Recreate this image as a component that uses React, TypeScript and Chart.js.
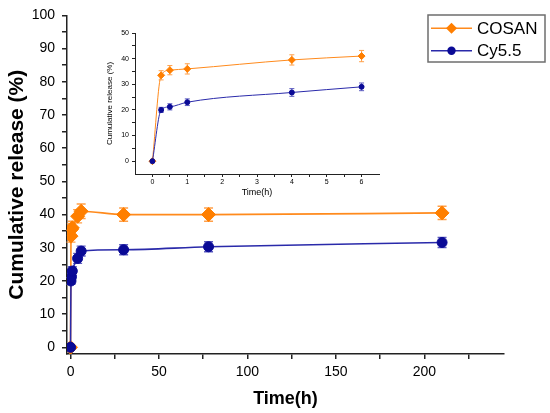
import React, { useEffect, useRef } from "react";
import { Chart, registerables } from "chart.js";

Chart.register(...registerables);

// ---- data ----
const times = [0, 0.25, 0.5, 1, 4, 6, 30, 78, 210];
const cosanValues = [0, 33.5, 35.5, 36, 39.5, 41, 40, 40, 40.5];
const cosanErrors = [0, 1.8, 1.8, 2, 2, 2.2, 2, 2, 2];
const cy55Values = [0, 20, 21.2, 23, 26.8, 29, 29.4, 30.3, 31.6];
const cy55Errors = [0, 1, 1.2, 1.3, 1.5, 1.5, 1.5, 1.5, 1.5];
const insetPointCount = 6; // the inset shows the first 6 h

const seriesNames = ["COSAN", "Cy5.5"];

const mainXTicks = [0, 25, 50, 75, 100, 125, 150, 175, 200, 225];
const mainXLabels = [0, 50, 100, 150, 200];
const mainYTicks = [0, 5, 10, 15, 20, 25, 30, 35, 40, 45, 50, 55, 60, 65, 70, 75, 80, 85, 90, 95, 100];
const mainYLabels = [0, 10, 20, 30, 40, 50, 60, 70, 80, 90, 100];

const insetXTicks = [0, 0.5, 1, 1.5, 2, 2.5, 3, 3.5, 4, 4.5, 5, 5.5, 6];
const insetXLabels = [0, 1, 2, 3, 4, 5, 6];
const insetYTicks = [0, 5, 10, 15, 20, 25, 30, 35, 40, 45, 50];
const insetYLabels = [0, 10, 20, 30, 40, 50];

const FONT = "'Liberation Sans', Arial, sans-serif";

const ORANGE_LINE = "#ff8a1c";
const ORANGE_MARK = "#ff7f00";
const ORANGE_ERR = "#ffa04a";
const BLUE_LINE = "#2a2aaa";
const BLUE_MARK = "#0a0a96";
const BLUE_ERR = "#5a5abf";

const errorBarPlugin = {
  id: "errorBars",
  beforeDatasetsDraw(chart: any, _args: any, opts: any) {
    const ctx = chart.ctx;
    const xs = chart.scales.x;
    const ys = chart.scales.y;
    chart.data.datasets.forEach((ds: any) => {
      const errs = ds.errors;
      if (!errs) return;
      ctx.save();
      ctx.strokeStyle = ds.errorColor || ds.borderColor;
      ctx.lineWidth = opts.lineWidth || 1;
      const cap = opts.cap || 3;
      ds.data.forEach((pt: any, j: number) => {
        const e = errs[j];
        if (!e) return;
        const x = xs.getPixelForValue(pt.x);
        const y1 = ys.getPixelForValue(pt.y - e);
        const y2 = ys.getPixelForValue(pt.y + e);
        ctx.beginPath();
        ctx.moveTo(x, y1);
        ctx.lineTo(x, y2);
        ctx.moveTo(x - cap, y1);
        ctx.lineTo(x + cap, y1);
        ctx.moveTo(x - cap, y2);
        ctx.lineTo(x + cap, y2);
        ctx.stroke();
      });
      ctx.restore();
    });
  },
};

const boxLegendPlugin = {
  id: "boxLegend",
  afterDraw(chart: any, _args: any, opts: any) {
    if (!opts || !opts.display) return;
    const ctx = chart.ctx;
    const { left, top, width, height, firstRow, rowHeight, lineLen, textGap, fontSize } = opts;
    ctx.save();
    ctx.strokeStyle = "#6e6e6e";
    ctx.lineWidth = 1.5;
    ctx.strokeRect(left, top, width, height);
    chart.data.datasets.forEach((ds: any, i: number) => {
      const y = top + firstRow + i * rowHeight;
      const x0 = left + 3;
      const x1 = x0 + lineLen;
      const cx = (x0 + x1) / 2;
      ctx.strokeStyle = ds.borderColor;
      ctx.lineWidth = 1.5;
      ctx.beginPath();
      ctx.moveTo(x0, y);
      ctx.lineTo(x1, y);
      ctx.stroke();
      ctx.fillStyle = ds.pointBackgroundColor;
      ctx.beginPath();
      if (ds.pointStyle === "rectRot") {
        const r = 5.5;
        ctx.moveTo(cx - r, y);
        ctx.lineTo(cx, y - r);
        ctx.lineTo(cx + r, y);
        ctx.lineTo(cx, y + r);
        ctx.closePath();
      } else {
        ctx.arc(cx, y, 4.2, 0, Math.PI * 2);
      }
      ctx.fill();
      ctx.fillStyle = "#000";
      ctx.font = `${fontSize}px ${FONT}`;
      ctx.textBaseline = "middle";
      ctx.textAlign = "left";
      ctx.fillText(ds.label, x1 + textGap, y + 1);
    });
    ctx.restore();
  },
};

function buildPoints(values: number[], count: number) {
  return times.slice(0, count).map((t, i) => ({ x: t, y: values[i] }));
}

function makeDatasets(count: number, big: boolean) {
  return [
    {
      label: seriesNames[0],
      data: buildPoints(cosanValues, count),
      errors: cosanErrors.slice(0, count),
      errorColor: ORANGE_ERR,
      borderColor: ORANGE_LINE,
      backgroundColor: ORANGE_MARK,
      pointBackgroundColor: ORANGE_MARK,
      pointBorderColor: ORANGE_MARK,
      pointStyle: "rectRot",
      pointRadius: big ? 7 : 3.5,
      pointBorderWidth: 1,
      borderWidth: big ? 1.6 : 1,
      cubicInterpolationMode: "monotone",
      fill: false,
      order: 2,
    },
    {
      label: seriesNames[1],
      data: buildPoints(cy55Values, count),
      errors: cy55Errors.slice(0, count),
      errorColor: BLUE_ERR,
      borderColor: BLUE_LINE,
      backgroundColor: BLUE_MARK,
      pointBackgroundColor: BLUE_MARK,
      pointBorderColor: BLUE_MARK,
      pointStyle: "circle",
      pointRadius: big ? 5 : 2.5,
      pointBorderWidth: 1,
      borderWidth: big ? 1.6 : 1,
      cubicInterpolationMode: "monotone",
      fill: false,
      order: 1,
    },
  ];
}

function axis(opts: any) {
  const { min, max, tickValues, labelValues, fontSize, tickLength, padding, borderWidth, title, size, isX } = opts;
  return {
    type: "linear",
    min,
    max,
    afterFit(scale: any) {
      if (isX) scale.height = size;
      else scale.width = size;
    },
    afterBuildTicks(scale: any) {
      scale.ticks = tickValues.map((v: number) => ({ value: v }));
    },
    ticks: {
      autoSkip: false,
      maxRotation: 0,
      minRotation: 0,
      color: "#000",
      padding,
      font: { family: FONT, size: fontSize },
      callback: (v: number) => (labelValues.includes(v) ? String(v) : ""),
    },
    grid: {
      display: true,
      drawOnChartArea: false,
      drawTicks: true,
      tickLength,
      color: "#222",
      lineWidth: borderWidth,
    },
    border: { display: true, color: "#222", width: borderWidth },
    title,
  };
}

export default function App() {
  const mainRef = useRef<HTMLCanvasElement | null>(null);
  const insetRef = useRef<HTMLCanvasElement | null>(null);

  useEffect(() => {
    document.body.style.margin = "0";
    const mainChart = new Chart(mainRef.current as HTMLCanvasElement, {
      type: "line",
      data: { datasets: makeDatasets(times.length, true) as any },
      plugins: [errorBarPlugin, boxLegendPlugin],
      options: {
        animation: false,
        responsive: false,
        devicePixelRatio: 1,
        layout: { padding: { top: 13, right: 46, left: 0, bottom: 0 } },
        plugins: {
          legend: { display: false },
          tooltip: { enabled: false },
          errorBars: { lineWidth: 1.4, cap: 4.5 },
          boxLegend: {
            display: true,
            left: 428,
            top: 15,
            width: 117,
            height: 47,
            firstRow: 13.3,
            rowHeight: 22.4,
            lineLen: 41,
            textGap: 5,
            fontSize: 17,
          },
        } as any,
        scales: {
          x: axis({
            isX: true,
            size: 59,
            min: -2,
            max: 245,
            tickValues: mainXTicks,
            labelValues: mainXLabels,
            fontSize: 14,
            tickLength: 5,
            padding: 5,
            borderWidth: 1.5,
            title: {
              display: true,
              text: "Time(h)",
              color: "#000",
              font: { family: FONT, size: 18, weight: "bold" },
              padding: { top: 0, bottom: 3 },
            },
          }),
          y: axis({
            isX: false,
            size: 67,
            min: -2,
            max: 100,
            tickValues: mainYTicks,
            labelValues: mainYLabels,
            fontSize: 14,
            tickLength: 5,
            padding: 7,
            borderWidth: 1.5,
            title: {
              display: true,
              text: "Cumulative release (%)",
              color: "#000",
              font: { family: FONT, size: 21, weight: "bold" },
              padding: { top: 5, bottom: 0 },
            },
          }),
        } as any,
      },
    });

    const insetChart = new Chart(insetRef.current as HTMLCanvasElement, {
      type: "line",
      data: { datasets: makeDatasets(insetPointCount, false) as any },
      plugins: [errorBarPlugin],
      options: {
        animation: false,
        responsive: false,
        devicePixelRatio: 1,
        layout: { padding: { top: 13, right: 11, left: 0, bottom: 0 } },
        plugins: {
          legend: { display: false },
          tooltip: { enabled: false },
          errorBars: { lineWidth: 1, cap: 2.5 },
        } as any,
        scales: {
          x: axis({
            isX: true,
            size: 31,
            min: -0.5,
            max: 6.5,
            tickValues: insetXTicks,
            labelValues: insetXLabels,
            fontSize: 7,
            tickLength: 3,
            padding: 1,
            borderWidth: 1,
            title: {
              display: true,
              text: "Time(h)",
              color: "#000",
              font: { family: FONT, size: 9 },
              padding: { top: 0, bottom: 7 },
            },
          }),
          y: axis({
            isX: false,
            size: 35,
            min: -5,
            max: 50,
            tickValues: insetYTicks,
            labelValues: insetYLabels,
            fontSize: 7,
            tickLength: 3,
            padding: 3,
            borderWidth: 1,
            title: {
              display: true,
              text: "Cumulative release (%)",
              color: "#000",
              font: { family: FONT, size: 8 },
              padding: { top: 5, bottom: 0 },
            },
          }),
        } as any,
      },
    });

    return () => {
      mainChart.destroy();
      insetChart.destroy();
    };
  }, []);

  return (
    <div style={{ position: "absolute", left: 0, top: 0, width: 550, height: 413, background: "#fff" }}>
      <canvas
        ref={mainRef}
        width={550}
        height={413}
        style={{ position: "absolute", left: 0, top: 0, width: 550, height: 413, display: "block" }}
      />
      <canvas
        ref={insetRef}
        width={290}
        height={185}
        style={{ position: "absolute", left: 100, top: 20, width: 290, height: 185, display: "block" }}
      />
    </div>
  );
}
